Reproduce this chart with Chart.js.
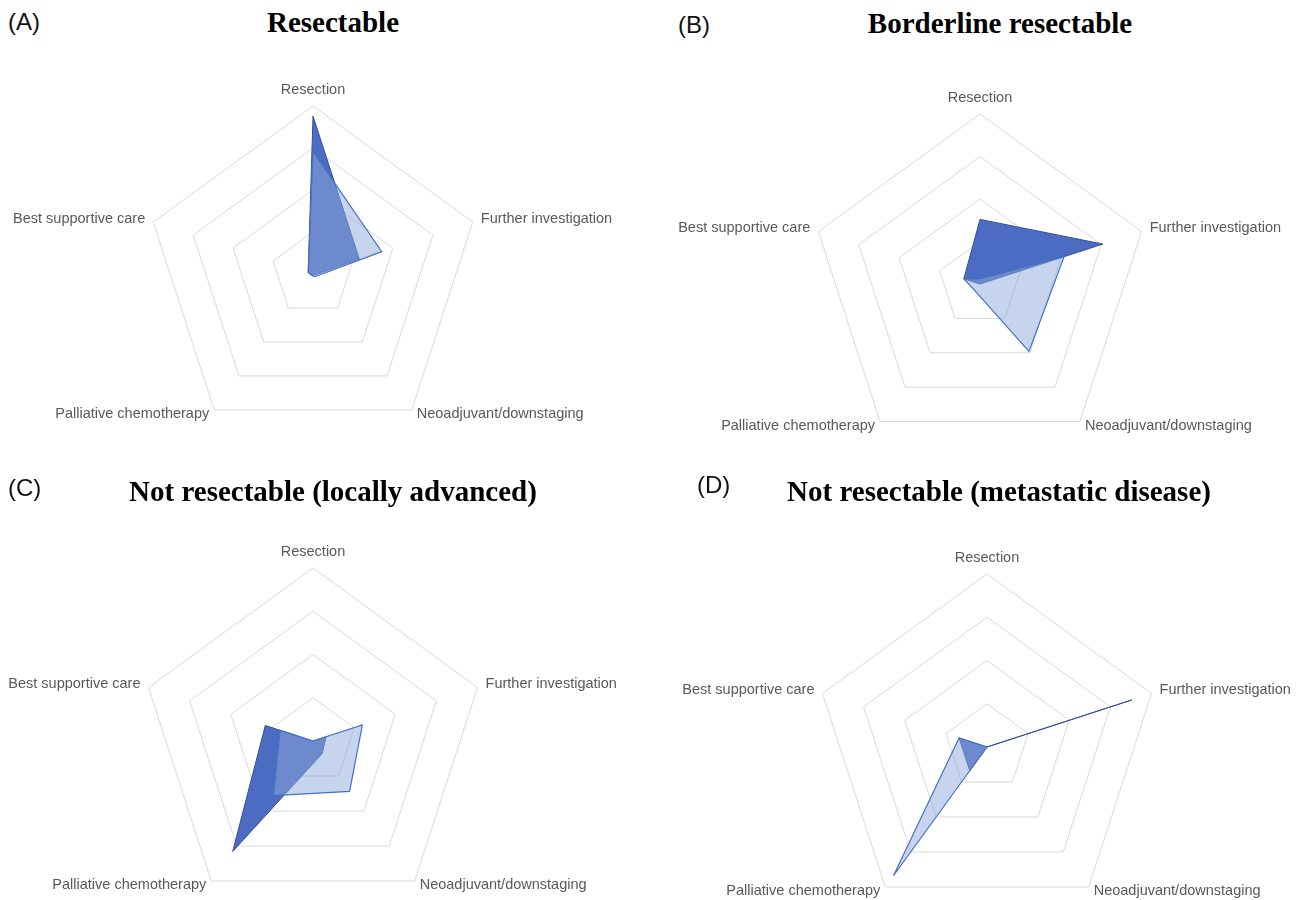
<!DOCTYPE html>
<html>
<head>
<meta charset="utf-8">
<title>Treatment recommendation by resectability</title>
<script src="https://cdn.jsdelivr.net/npm/chart.js@4.4.1/dist/chart.umd.min.js"></script>
<style>
  html, body { margin: 0; padding: 0; background: #ffffff; width: 1296px; height: 900px; overflow: hidden; }
  .tag { position: absolute; font-family: "Liberation Sans", Arial, sans-serif; font-size: 24px; line-height: 24px; color: #111; white-space: nowrap; }
  .title { position: absolute; font-family: "Liberation Serif", "Times New Roman", serif; font-weight: bold; font-size: 29px; line-height: 29px; color: #000; white-space: nowrap; transform: translateX(-50%); }
  canvas { position: absolute; }
</style>
</head>
<body>
<script>
// Axis categories shared by all four radar panels
const axisLabels = ['Resection', 'Further investigation', 'Neoadjuvant/downstaging', 'Palliative chemotherapy', 'Best supportive care'];

// Percentage values per panel (first = dark series, second = light series)
const resectableFirst = [94, 29, 1, 1, 3];
const resectableSecond = [73, 43, 2, 1, 3];
const borderlineFirst = [38, 76, 0, 0, 10];
const borderlineSecond = [3, 52, 49, 5, 10];
const locallyAdvancedFirst = [0, 8, 9, 79, 29];
const locallyAdvancedSecond = [0, 30, 36, 39, 20];
const metastaticFirst = [0, 88, 0, 17, 17];
const metastaticSecond = [0, 0, 0, 92, 17];

// Radial scale range and ring spacing
const scaleMax = 100;
const ringStep = 25;

// Panel layout: tag/title placement, radar centre and radius
const panels = [
  { tag: '(A)', title: 'Resectable', tagX: 8, tagY: 10, titleX: 333, titleY: 8, cx: 313, cy: 274, r: 168, first: resectableFirst, second: resectableSecond },
  { tag: '(B)', title: 'Borderline resectable', tagX: 678, tagY: 13, titleX: 1000, titleY: 9, cx: 980, cy: 284, r: 170, first: borderlineFirst, second: borderlineSecond },
  { tag: '(C)', title: 'Not resectable (locally advanced)', tagX: 8, tagY: 476, titleX: 333, titleY: 477, cx: 313, cy: 741, r: 173, first: locallyAdvancedFirst, second: locallyAdvancedSecond },
  { tag: '(D)', title: 'Not resectable (metastatic disease)', tagX: 697, tagY: 473, titleX: 999, titleY: 477, cx: 987, cy: 747, r: 173, first: metastaticFirst, second: metastaticSecond }
];

// Category labels placed around the outer ring, spreadsheet style
const axisLabelPlugin = {
  id: 'axisLabelPlugin',
  afterDraw(chart, args, opts) {
    const scale = chart.scales.r;
    const ctx = chart.ctx;
    const R = scale.drawingArea;
    const n = chart.data.labels.length;
    ctx.save();
    ctx.font = opts.font;
    ctx.fillStyle = opts.color;
    ctx.textBaseline = 'middle';
    chart.data.labels.forEach((text, i) => {
      const deg = Math.round(i * 360 / n);
      const p = scale.getPointPosition(i, R);
      let x = p.x, y = p.y, align = 'center';
      if (deg === 0) {
        y -= opts.topGap;
      } else if (deg < 90 || deg > 270) {
        align = deg < 180 ? 'left' : 'right';
        x += (deg < 180 ? 1 : -1) * opts.sideGap;
        y -= opts.sideLift;
      } else {
        align = deg < 180 ? 'left' : 'right';
        x += (deg < 180 ? 1 : -1) * opts.bottomGap;
        y += opts.bottomDrop;
      }
      ctx.textAlign = align;
      ctx.fillText(text, x, y);
    });
    ctx.restore();
  }
};

const pad = 40;
const canvasWidth = 720;

panels.forEach((panel) => {
  const tag = document.createElement('div');
  tag.className = 'tag';
  tag.textContent = panel.tag;
  tag.style.left = panel.tagX + 'px';
  tag.style.top = panel.tagY + 'px';
  document.body.appendChild(tag);

  const title = document.createElement('div');
  title.className = 'title';
  title.textContent = panel.title;
  title.style.left = panel.titleX + 'px';
  title.style.top = panel.titleY + 'px';
  document.body.appendChild(title);

  const canvas = document.createElement('canvas');
  const h = 2 * panel.r + 2 * pad;
  canvas.width = canvasWidth;
  canvas.height = h;
  canvas.style.width = canvasWidth + 'px';
  canvas.style.height = h + 'px';
  canvas.style.left = (panel.cx - canvasWidth / 2) + 'px';
  canvas.style.top = (panel.cy - panel.r - pad) + 'px';
  document.body.appendChild(canvas);

  new Chart(canvas, {
    type: 'radar',
    data: {
      labels: axisLabels,
      datasets: [
        {
          label: 'Group 1',
          data: panel.first,
          order: 1,
          fill: true,
          backgroundColor: '#4c6bc2',
          borderColor: '#34509a',
          borderWidth: 1,
          pointRadius: 0,
          tension: 0
        },
        {
          label: 'Group 2',
          data: panel.second,
          order: 0,
          fill: true,
          backgroundColor: 'rgba(143, 170, 220, 0.5)',
          borderColor: '#4472c4',
          borderWidth: 1.2,
          pointRadius: 0,
          tension: 0
        }
      ]
    },
    options: {
      responsive: false,
      animation: false,
      devicePixelRatio: 1,
      layout: { padding: pad },
      elements: { line: { borderJoinStyle: 'miter' }, point: { radius: 0 } },
      plugins: {
        legend: { display: false },
        tooltip: { enabled: false },
        axisLabelPlugin: {
          font: '14.5px "Liberation Sans", Arial, sans-serif',
          color: '#595959',
          topGap: 16.5,
          sideGap: 8,
          sideLift: 3.5,
          bottomGap: 5,
          bottomDrop: 4
        }
      },
      scales: {
        r: {
          min: 0,
          max: scaleMax,
          ticks: { display: false, stepSize: ringStep },
          grid: { color: '#d9d9d9', lineWidth: 1 },
          angleLines: { display: false },
          pointLabels: { display: false }
        }
      }
    },
    plugins: [axisLabelPlugin]
  });
});
</script>
</body>
</html>
